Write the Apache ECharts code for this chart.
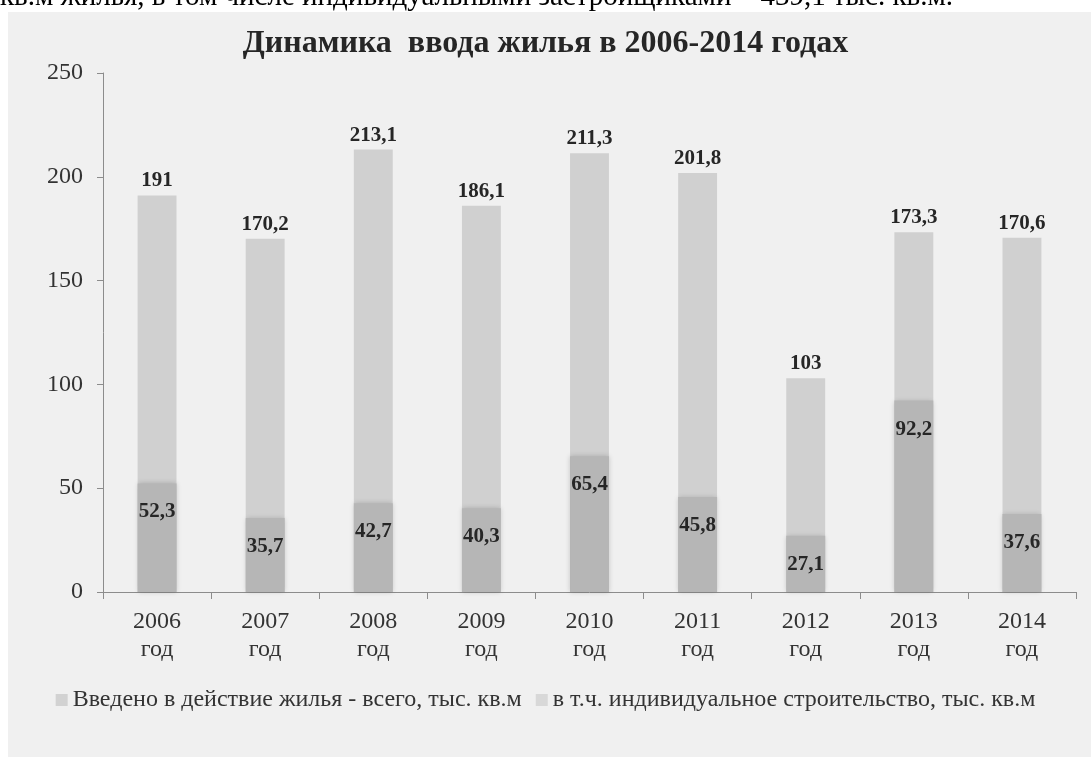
<!DOCTYPE html>
<html>
<head>
<meta charset="utf-8">
<script src="https://cdn.jsdelivr.net/npm/echarts@6/dist/echarts.min.js"></script>
<style>
html,body{margin:0;padding:0;background:#ffffff;}
#panel{position:absolute;left:8px;top:12px;width:1083px;height:745px;background:#f0f0f0;}
#chart{position:absolute;left:0;top:0;width:1091px;height:757px;}
</style>
</head>
<body>
<div id="panel"></div>
<div id="chart"></div>
<script>
const categories = ['2006\nгод','2007\nгод','2008\nгод','2009\nгод','2010\nгод','2011\nгод','2012\nгод','2013\nгод','2014\nгод'];
const totalValues = [191, 170.2, 213.1, 186.1, 211.3, 201.8, 103, 173.3, 170.6];
const individualValues = [52.3, 35.7, 42.7, 40.3, 65.4, 45.8, 27.1, 92.2, 37.6];
const totalName = 'Введено в действие жилья - всего, тыс. кв.м';
const individualName = 'в т.ч. индивидуальное строительство, тыс. кв.м';
const titleText = 'Динамика  ввода жилья в 2006-2014 годах';
const topText = 'кв.м жилья, в том числе индивидуальными застройщиками – 439,1 тыс. кв.м.';

const fmt = p => String(p.value).replace('.', ',');
const serif = '"Liberation Serif", "DejaVu Serif", serif';

const chart = echarts.init(document.getElementById('chart'), null, {renderer: 'canvas'});
chart.setOption({
  backgroundColor: 'transparent',
  animation: false,
  textStyle: {fontFamily: serif},
  title: {
    text: titleText,
    left: 'center',
    top: 23,
    textStyle: {fontFamily: serif, fontSize: 32, fontWeight: 'bold', color: '#262626'}
  },
  graphic: [{
    type: 'text',
    left: 0,
    top: -17,
    style: {text: topText, font: '29px "Liberation Serif"', fill: '#000000'}
  }],
  legend: {
    bottom: 40,
    left: 'center',
    itemWidth: 12,
    itemHeight: 12,
    itemGap: 14,
    icon: 'rect',
    textStyle: {fontFamily: serif, fontSize: 24, color: '#333333'},
    data: [
      {name: totalName, itemStyle: {color: '#d2d2d2'}},
      {name: individualName, itemStyle: {color: '#d8d8d8'}}
    ]
  },
  grid: {left: 103, right: 15, top: 73, bottom: 165},
  xAxis: {
    type: 'category',
    data: categories,
    axisLine: {lineStyle: {color: '#8c8c8c', width: 1}},
    axisTick: {show: true, length: 7, lineStyle: {color: '#8c8c8c'}},
    axisLabel: {fontFamily: serif, fontSize: 24, color: '#333333', lineHeight: 28, margin: 16}
  },
  yAxis: {
    type: 'value',
    min: 0,
    max: 250,
    interval: 50,
    axisLine: {show: true, lineStyle: {color: '#8c8c8c', width: 1}},
    axisTick: {show: true, length: 6, lineStyle: {color: '#8c8c8c'}},
    splitLine: {show: false},
    axisLabel: {fontFamily: serif, fontSize: 24, color: '#333333', margin: 20}
  },
  series: [
    {
      name: totalName,
      type: 'bar',
      data: totalValues,
      barWidth: '36%',
      itemStyle: {color: '#d0d0d0'},
      label: {show: true, position: 'top', distance: 4, formatter: fmt,
        fontFamily: serif, fontSize: 21, fontWeight: 'bold', color: '#262626'}
    },
    {
      name: individualName,
      type: 'bar',
      data: individualValues,
      barWidth: '36%',
      barGap: '-100%',
      itemStyle: {color: '#b6b6b6', shadowBlur: 5, shadowColor: 'rgba(0,0,0,0.18)'},
      label: {show: true, position: 'insideTop', distance: 18, formatter: fmt,
        fontFamily: serif, fontSize: 21, fontWeight: 'bold', color: '#262626'}
    }
  ]
});
</script>
</body>
</html>
